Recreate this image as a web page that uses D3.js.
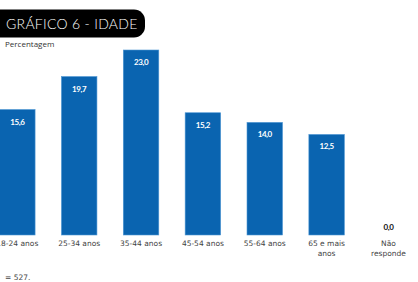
<!DOCTYPE html>
<html>
<head>
<meta charset="utf-8">
<script src="https://cdn.jsdelivr.net/npm/d3@7"></script>
<style>
  body { margin: 0; background: #fff; overflow: hidden; }
  svg { display: block; font-family: "DejaVu Sans", sans-serif; }
</style>
</head>
<body>
<svg id="chart" width="418" height="282"></svg>
<script>
var categories = ["18-24 anos", "25-34 anos", "35-44 anos", "45-54 anos", "55-64 anos", "65 e mais anos", "Não responde"],
    catLines = [["18-24 anos"], ["25-34 anos"], ["35-44 anos"], ["45-54 anos"], ["55-64 anos"], ["65 e mais", "anos"], ["Não", "responde"]],
    values = [15.6, 19.7, 23.0, 15.2, 14.0, 12.5, 0.0],
    valueLabels = ["15,6", "19,7", "23,0", "15,2", "14,0", "12,5", "0,0"];

var width = 418, height = 282,
    baseY = 235,
    barColor = "#0a64b0";

var svg = d3.select("#chart");

// scales
var x = d3.scaleBand()
    .domain(categories)
    .range([-13.6, 419.4])
    .paddingInner(0.426)
    .paddingOuter(0.213);

var y = d3.scaleLinear()
    .domain([0, 23.0])
    .range([baseY, 50]);

// title pill
svg.append("rect")
    .attr("x", -20)
    .attr("y", 9.5)
    .attr("width", 165)
    .attr("height", 28)
    .attr("rx", 11)
    .attr("fill", "#000");

svg.append("text")
    .attr("x", 6)
    .attr("y", 29.3)
    .attr("fill", "#fff")
    .style("font-family", "Lato, sans-serif")
    .style("font-size", "14px")
    .style("font-weight", "300")
    .style("letter-spacing", "0.3px")
    .text("GRÁFICO 6 - IDADE");

svg.append("text")
    .attr("x", 5)
    .attr("y", 47)
    .attr("fill", "#333")
    .style("font-family", "'Open Sans', sans-serif")
    .style("font-size", "8px")
    .text("Percentagem");

// bars
svg.selectAll(".bar")
    .data(values)
    .enter().append("rect")
    .attr("class", "bar")
    .attr("x", function (d, i) { return x(categories[i]); })
    .attr("width", x.bandwidth())
    .attr("y", function (d) { return y(d); })
    .attr("height", function (d) { return baseY - y(d); })
    .attr("fill", barColor)
    .attr("stroke", "#4f97d4")
    .attr("stroke-width", 0.6);

// value labels
svg.selectAll(".val")
    .data(values)
    .enter().append("text")
    .attr("class", "val")
    .attr("x", function (d, i) { return x(categories[i]) + x.bandwidth() / 2; })
    .attr("y", function (d) { return d > 0 ? y(d) + 15 : y(d) - 5.5; })
    .attr("text-anchor", "middle")
    .attr("fill", function (d) { return d > 0 ? "#fff" : "#111"; })
    .style("font-family", "Lato, sans-serif")
    .style("font-size", "8px")
    .style("font-weight", "bold")
    .style("letter-spacing", "-0.4px")
    .text(function (d, i) { return valueLabels[i]; });

// category labels
var cat = svg.selectAll(".cat")
    .data(catLines)
    .enter().append("text")
    .attr("class", "cat")
    .attr("x", function (d, i) { return x(categories[i]) + x.bandwidth() / 2; })
    .attr("y", 246)
    .attr("text-anchor", "middle")
    .attr("fill", "#444")
    .style("font-size", "7.5px");

cat.selectAll("tspan")
    .data(function (d) { return d; })
    .enter().append("tspan")
    .attr("x", function () { return d3.select(this.parentNode).attr("x"); })
    .attr("dy", function (d, j) { return j === 0 ? 0 : 9.5; })
    .text(function (d) { return d; });

// footer
svg.append("text")
    .attr("x", 5)
    .attr("y", 279.5)
    .attr("fill", "#444")
    .style("font-size", "7.5px")
    .text("= 527.");
</script>
</body>
</html>
